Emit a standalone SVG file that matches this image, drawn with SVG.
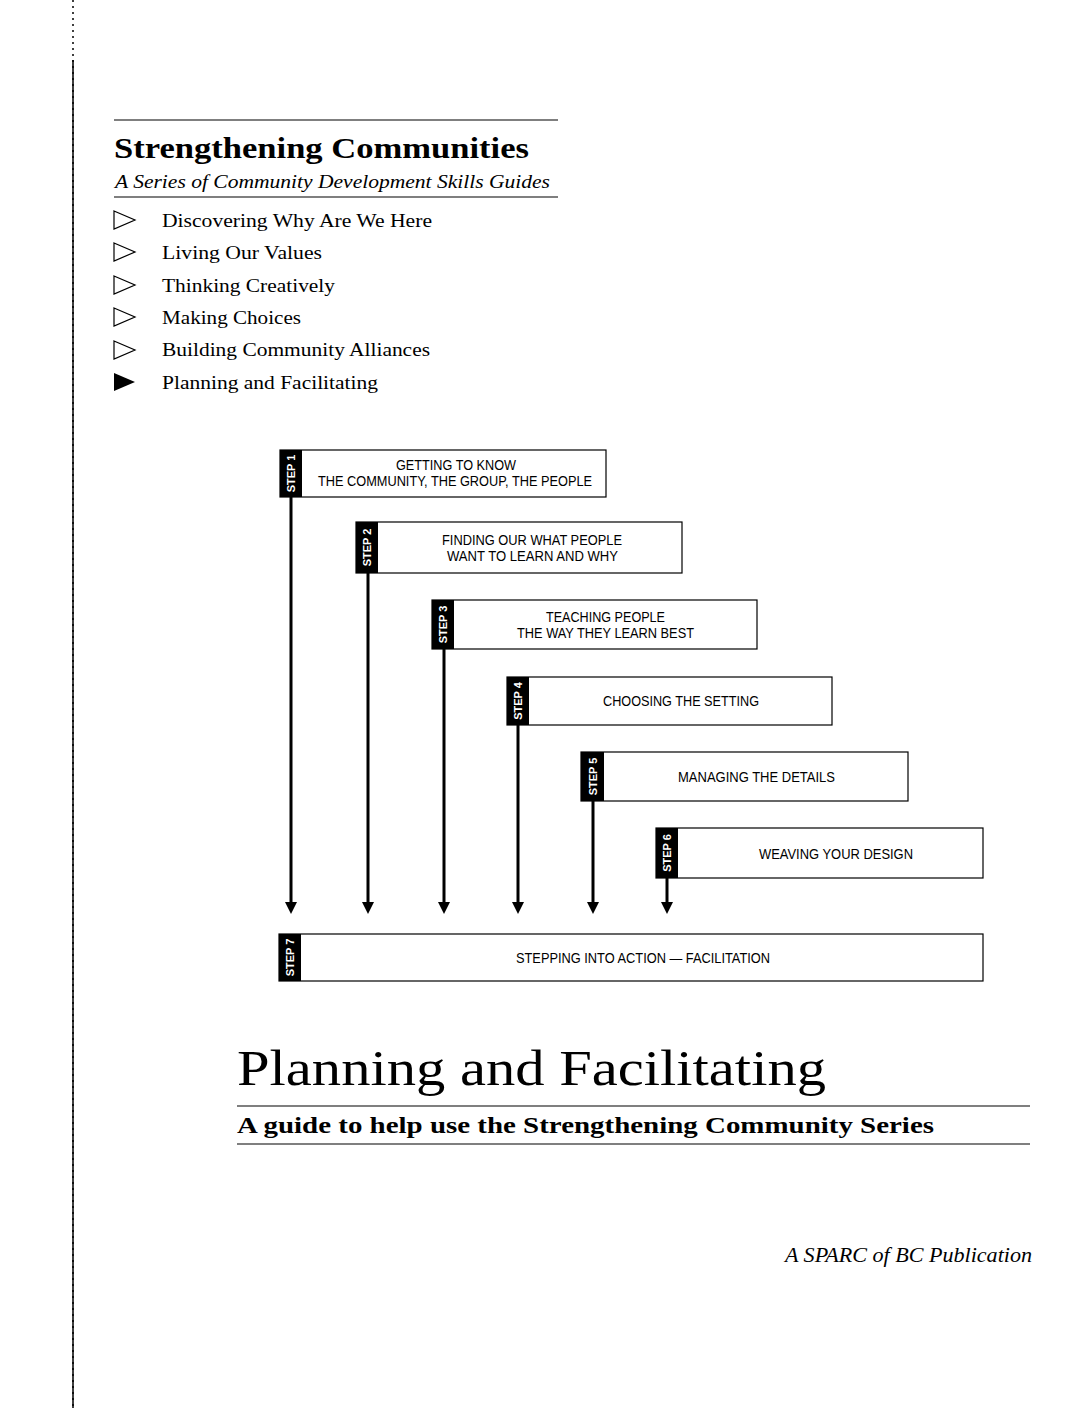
<svg xmlns="http://www.w3.org/2000/svg" width="1088" height="1408" viewBox="0 0 1088 1408">
<style>
.serif{font-family:"Liberation Serif","DejaVu Serif",serif;fill:#000}
.box{fill:#fff;stroke:#000;stroke-width:1.2}
.tab{fill:#000}
.tabt{font-family:"Liberation Sans","DejaVu Sans",sans-serif;font-weight:bold;font-size:11px;fill:#fff}
.bt{font-family:"Liberation Sans","DejaVu Sans",sans-serif;font-size:14px;fill:#000}
.rule{stroke:#000;stroke-width:1.2}
.conn{stroke:#000;stroke-width:3;fill:none}
</style>
<defs>
<marker id="ah" markerWidth="4" markerHeight="4" refX="2" refY="2" orient="auto" markerUnits="strokeWidth">
<path d="M0,0 L4,2 L0,4 Z" fill="#000"/>
</marker>
</defs>
<rect width="1088" height="1408" fill="#fff"/>
<line x1="73" y1="0" x2="73" y2="1408" stroke="#000" stroke-width="1.5" stroke-dasharray="2,4" />
<line x1="73" y1="60" x2="73" y2="1408" stroke="#000" stroke-width="1.5"/>

<g id="header">
<line class="rule" x1="114" y1="120" x2="558" y2="120"/>
<text class="serif" x="114" y="158" font-size="29" font-weight="bold" textLength="415" lengthAdjust="spacingAndGlyphs">Strengthening Communities</text>
<text class="serif" x="115" y="188" font-size="19" font-style="italic" textLength="435" lengthAdjust="spacingAndGlyphs">A Series of Community Development Skills Guides</text>
<line class="rule" x1="114" y1="197" x2="558" y2="197"/>
</g>

<g id="series-list">
<g fill="none" stroke="#000" stroke-width="1.2">
<polygon points="114,211 135,220 114,229"/>
<polygon points="114,243 135,252 114,261"/>
<polygon points="114,276 135,285 114,294"/>
<polygon points="114,308 135,317 114,326"/>
<polygon points="114,341 135,350 114,359"/>
</g>
<polygon points="114,373 135,382 114,391" fill="#000"/>
<text class="serif" x="162" y="227" font-size="19" textLength="270" lengthAdjust="spacingAndGlyphs">Discovering Why Are We Here</text>
<text class="serif" x="162" y="259" font-size="19" textLength="160" lengthAdjust="spacingAndGlyphs">Living Our Values</text>
<text class="serif" x="162" y="292" font-size="19" textLength="173" lengthAdjust="spacingAndGlyphs">Thinking Creatively</text>
<text class="serif" x="162" y="324" font-size="19" textLength="139" lengthAdjust="spacingAndGlyphs">Making Choices</text>
<text class="serif" x="162" y="356" font-size="19" textLength="268" lengthAdjust="spacingAndGlyphs">Building Community Alliances</text>
<text class="serif" x="162" y="389" font-size="19" textLength="216" lengthAdjust="spacingAndGlyphs">Planning and Facilitating</text>
</g>

<g id="connectors">
<line class="conn" x1="291" y1="497" x2="291" y2="908" marker-end="url(#ah)"/>
<line class="conn" x1="368" y1="573" x2="368" y2="908" marker-end="url(#ah)"/>
<line class="conn" x1="444" y1="649" x2="444" y2="908" marker-end="url(#ah)"/>
<line class="conn" x1="518" y1="725" x2="518" y2="908" marker-end="url(#ah)"/>
<line class="conn" x1="593" y1="801" x2="593" y2="908" marker-end="url(#ah)"/>
<line class="conn" x1="667" y1="878" x2="667" y2="908" marker-end="url(#ah)"/>
</g>

<g id="step1">
<rect class="box" x="280" y="450" width="326" height="47"/>
<rect class="tab" x="280" y="450" width="22" height="47"/>
<text class="tabt" transform="translate(295,473.5) rotate(-90)" text-anchor="middle">STEP 1</text>
<text class="bt" x="396" y="470" textLength="120" lengthAdjust="spacingAndGlyphs">GETTING TO KNOW</text>
<text class="bt" x="318" y="486" textLength="274" lengthAdjust="spacingAndGlyphs">THE COMMUNITY, THE GROUP, THE PEOPLE</text>
</g>
<g id="step2">
<rect class="box" x="356" y="522" width="326" height="51"/>
<rect class="tab" x="356" y="522" width="22" height="51"/>
<text class="tabt" transform="translate(371,547.5) rotate(-90)" text-anchor="middle">STEP 2</text>
<text class="bt" x="442" y="545" textLength="180" lengthAdjust="spacingAndGlyphs">FINDING OUR WHAT PEOPLE</text>
<text class="bt" x="447" y="561" textLength="171" lengthAdjust="spacingAndGlyphs">WANT TO LEARN AND WHY</text>
</g>
<g id="step3">
<rect class="box" x="432" y="600" width="325" height="49"/>
<rect class="tab" x="432" y="600" width="22" height="49"/>
<text class="tabt" transform="translate(447,624.5) rotate(-90)" text-anchor="middle">STEP 3</text>
<text class="bt" x="546" y="622" textLength="119" lengthAdjust="spacingAndGlyphs">TEACHING PEOPLE</text>
<text class="bt" x="517" y="638" textLength="177" lengthAdjust="spacingAndGlyphs">THE WAY THEY LEARN BEST</text>
</g>
<g id="step4">
<rect class="box" x="507" y="677" width="325" height="48"/>
<rect class="tab" x="507" y="677" width="22" height="48"/>
<text class="tabt" transform="translate(522,701) rotate(-90)" text-anchor="middle">STEP 4</text>
<text class="bt" x="603" y="706" textLength="156" lengthAdjust="spacingAndGlyphs">CHOOSING THE SETTING</text>
</g>
<g id="step5">
<rect class="box" x="581" y="752" width="327" height="49"/>
<rect class="tab" x="581" y="752" width="23" height="49"/>
<text class="tabt" transform="translate(596.5,776.5) rotate(-90)" text-anchor="middle">STEP 5</text>
<text class="bt" x="678" y="782" textLength="157" lengthAdjust="spacingAndGlyphs">MANAGING THE DETAILS</text>
</g>
<g id="step6">
<rect class="box" x="656" y="828" width="327" height="50"/>
<rect class="tab" x="656" y="828" width="22" height="50"/>
<text class="tabt" transform="translate(671,853) rotate(-90)" text-anchor="middle">STEP 6</text>
<text class="bt" x="759" y="859" textLength="154" lengthAdjust="spacingAndGlyphs">WEAVING YOUR DESIGN</text>
</g>
<g id="step7">
<rect class="box" x="279" y="934" width="704" height="47"/>
<rect class="tab" x="279" y="934" width="22" height="47"/>
<text class="tabt" transform="translate(294,957.5) rotate(-90)" text-anchor="middle">STEP 7</text>
<text class="bt" x="516" y="963" textLength="254" lengthAdjust="spacingAndGlyphs">STEPPING INTO ACTION — FACILITATION</text>
</g>

<g id="title">
<text class="serif" x="237" y="1085" font-size="50" textLength="589" lengthAdjust="spacingAndGlyphs">Planning and Facilitating</text>
<line class="rule" x1="237" y1="1106" x2="1030" y2="1106"/>
<text class="serif" x="237" y="1133" font-size="24" font-weight="bold" textLength="697" lengthAdjust="spacingAndGlyphs">A guide to help use the Strengthening Community Series</text>
<line class="rule" x1="237" y1="1144" x2="1030" y2="1144"/>
<text class="serif" x="785" y="1262" font-size="20" font-style="italic" textLength="247" lengthAdjust="spacingAndGlyphs">A SPARC of BC Publication</text>
</g>
</svg>
